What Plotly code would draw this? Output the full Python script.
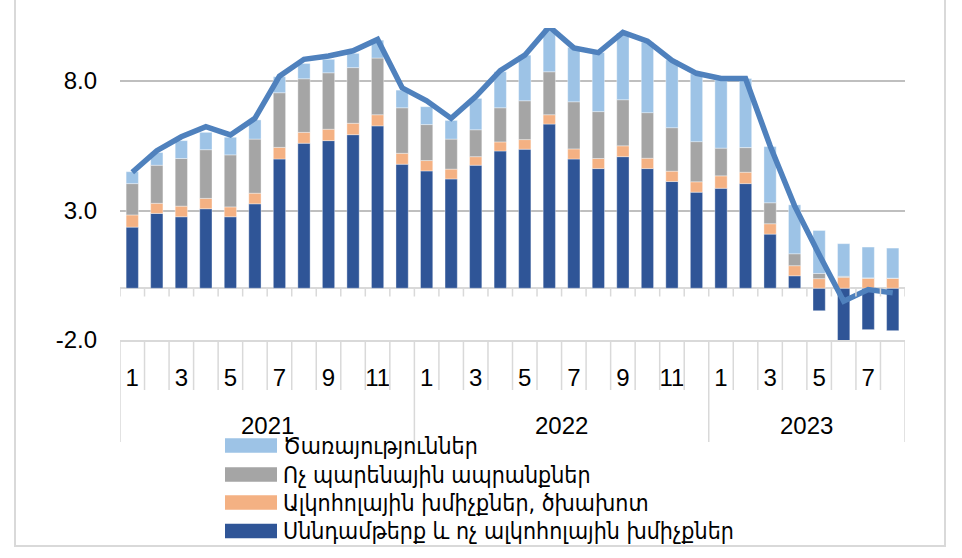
import plotly.graph_objects as go

years = ["2021", "2022", "2023"]
months_per_year = [12, 12, 8]
month_labels = []
for n in months_per_year:
    month_labels += [str(m) if m % 2 == 1 else "" for m in range(1, n + 1)]

series_names = [
    "Սննդամթերք և ոչ ալկոհոլային խմիչքներ",
    "Ալկոհոլային խմիչքներ, ծխախոտ",
    "Ոչ պարենային ապրանքներ",
    "Ծառայություններ",
]

food = [2.36, 2.89, 2.76, 3.07, 2.76, 3.26, 4.99, 5.60, 5.70, 5.93, 6.27, 4.79,
        4.53, 4.22, 4.75, 5.30, 5.37, 6.34, 4.99, 4.62, 5.08, 4.62, 4.12, 3.71,
        3.86, 4.04, 2.09, 0.48, -0.87, -2.09, -1.60, -1.64]
alcohol = [0.47, 0.39, 0.41, 0.40, 0.38, 0.41, 0.45, 0.42, 0.44, 0.44, 0.43, 0.42,
           0.40, 0.38, 0.33, 0.35, 0.37, 0.36, 0.39, 0.39, 0.42, 0.40, 0.40, 0.40,
           0.48, 0.44, 0.40, 0.39, 0.37, 0.42, 0.38, 0.38]
nonfood = [1.21, 1.47, 1.84, 1.88, 2.01, 2.09, 2.11, 2.07, 2.18, 2.15, 2.19, 1.76,
           1.39, 1.16, 1.04, 1.32, 1.50, 1.66, 1.82, 1.81, 1.78, 1.76, 1.68, 1.55,
           1.07, 0.95, 0.81, 0.46, 0.20, 0.04, 0.02, 0.01]
services = [0.46, 0.49, 0.69, 0.67, 0.68, 0.74, 0.62, 0.59, 0.52, 0.55, 0.69, 0.68,
            0.69, 0.72, 1.21, 1.39, 1.76, 1.67, 2.10, 2.28, 2.58, 2.72, 2.61, 2.62,
            2.63, 2.67, 2.17, 1.89, 1.66, 1.26, 1.19, 1.16]
total = [4.48, 5.31, 5.85, 6.24, 5.92, 6.56, 8.19, 8.84, 8.97, 9.17, 9.61, 7.74,
         7.24, 6.56, 7.40, 8.40, 9.00, 10.10, 9.28, 9.10, 9.88, 9.54, 8.80, 8.30,
         8.10, 8.10, 5.50, 3.18, 1.30, -0.50, -0.05, -0.18]

y_ticks = [-2, 3, 8]
y_ticktext = ["-2.0", "3.0", "8.0"]

colors = ["#2F5597", "#F4B183", "#A5A5A5", "#9DC3E6"]
line_color = "#4F81BD"

n = len(food)
x = list(range(n))

fig = go.Figure()
for name, vals, col in zip(series_names, [food, alcohol, nonfood, services], colors):
    fig.add_trace(go.Bar(x=x, y=vals, name=name,
                         marker=dict(color=col, line=dict(width=0.6, color="rgba(255,255,255,0.6)")),
                         showlegend=False))
fig.add_trace(go.Scatter(x=x, y=total, mode="lines", line=dict(color=line_color, width=5.5),
                         showlegend=False))

# geometry helpers (plot area: left 120, right 905, top 28, bottom 340 px)
L, R, T, B = 120, 905, 28, 340
W, H = R - L, B - T
def px_x(p):
    return (p - L) / W
def px_y(p):
    return (B - p) / H

num_font = "Liberation Sans, Arial"
shapes = []
grid_gray = "#D9D9D9"
year_bounds = [0]
for m in months_per_year:
    year_bounds.append(year_bounds[-1] + m)
for k in range(n + 1):
    xb = k - 0.5
    shapes.append(dict(type="line", xref="x", yref="y", x0=xb, x1=xb, y0=0, y1=-0.32,
                       line=dict(color=grid_gray, width=1.5)))
    y1 = px_y(442) if k in year_bounds else px_y(390)
    shapes.append(dict(type="line", xref="x", yref="paper", x0=xb, x1=xb, y0=0, y1=y1,
                       line=dict(color=grid_gray, width=1.5)))

# outer chart border
shapes.append(dict(type="rect", xref="paper", yref="paper", x0=px_x(15), x1=px_x(945),
                   y0=px_y(546), y1=px_y(-5), line=dict(color="#D9D9D9", width=2)))

annotations = []
for i, yr in enumerate(years):
    cx = (year_bounds[i] + year_bounds[i + 1] - 1) / 2
    annotations.append(dict(text=yr, x=cx, y=px_y(425), xref="x", yref="paper", showarrow=False,
                            xanchor="center", yanchor="middle",
                            font=dict(family=num_font, size=24, color="#000000")))

# custom legend (services first)
leg_centers = [445.5, 474.5, 502.5, 531]
leg_order = [3, 2, 1, 0]
for yc, idx in zip(leg_centers, leg_order):
    shapes.append(dict(type="rect", xref="paper", yref="paper", x0=px_x(225), x1=px_x(277),
                       y0=px_y(yc + 7.3), y1=px_y(yc - 7.3), fillcolor=colors[idx], line=dict(width=0)))
    annotations.append(dict(text=series_names[idx], x=px_x(281), y=px_y(yc), xref="paper", yref="paper",
                            showarrow=False, xanchor="left", yanchor="middle",
                            font=dict(family="DejaVu Sans Condensed, DejaVu Sans", size=23, color="#000000")))

fig.update_layout(
    width=962, height=558, autosize=False,
    margin=dict(l=L, r=962 - R, t=T, b=558 - B, pad=0),
    paper_bgcolor="white", plot_bgcolor="white",
    barmode="relative", bargap=0.5,
    shapes=shapes, annotations=annotations,
    font=dict(family=num_font, size=24, color="#000000"),
    hovermode=False,
)
fig.update_xaxes(range=[-0.5, n - 0.5], tickmode="array", tickvals=x, ticktext=month_labels,
                 showgrid=False, zeroline=False, showline=True, linecolor=grid_gray, linewidth=2,
                 ticks="", ticklabelstandoff=15, tickfont=dict(size=24))
fig.update_yaxes(range=[-2, 10.05], tickmode="array", tickvals=y_ticks, ticktext=y_ticktext,
                 showgrid=True, gridcolor="#BFBFBF", gridwidth=1.5,
                 zeroline=True, zerolinecolor=grid_gray, zerolinewidth=2,
                 showline=False, ticks="", ticklabelstandoff=22, tickfont=dict(size=24))

fig.write_html("out.html", config={"displayModeBar": False},
               post_script="document.body.style.margin='0px';")
